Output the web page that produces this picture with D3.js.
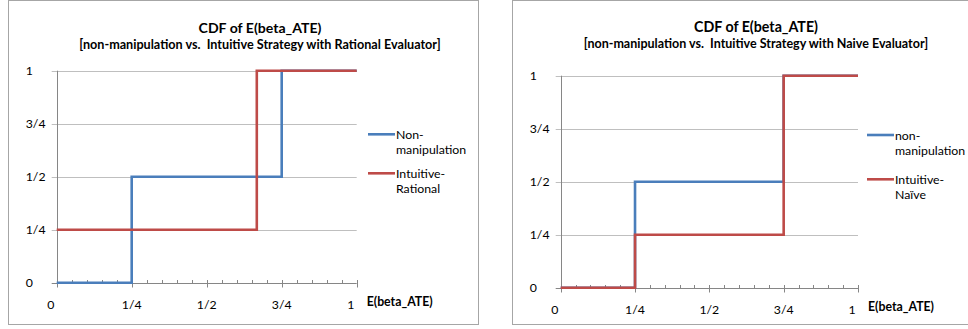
<!DOCTYPE html>
<html>
<head>
  <meta charset="utf-8">
  <style>
    body { margin: 0; background: #fff; font-family: Lato, 'Open Sans', sans-serif; }
    .frame { fill: #fff; stroke: #a6a6a6; stroke-width: 1px; }
    .grid { stroke: #bfbfbf; stroke-width: 1px; }
    .axis-line { stroke: #868686; stroke-width: 1px; }
    .title { font-size: 16px; font-weight: bold; text-anchor: middle; fill: #000; }
    .subtitle { font-size: 12px; font-weight: bold; text-anchor: middle; fill: #000; white-space: pre; }
    .tick-label { font-size: 12.3px; fill: #000; }
    .axis-title { font-size: 12.3px; font-weight: bold; fill: #000; }
    .legend { font-size: 12.3px; fill: #000; }
    .series { fill: none; stroke-width: 2.6px; }
  </style>
</head>
<body>
  <script src="https://d3js.org/d3.v7.min.js"></script>
  <script>

  // data
  var yTicks = [0, 0.25, 0.5, 0.75, 1]
  var yTickLabels = ["0", "1/4", "1/2", "3/4", "1"]
  var xTicks = [0, 0.25, 0.5, 0.75, 1]
  var xTickLabels = ["0", "1/4", "1/2", "3/4", "1"]
  var xTitle = "E(beta_ATE)"
  var title = "CDF of E(beta_ATE)"

  // left chart: non-manipulation vs intuitive/rational
  var leftSubtitle = "[non-manipulation vs.  Intuitive Strategy with Rational Evaluator]"
  var leftBlueX = [0, 0.25, 0.75, 1]
  var leftBlueY = [0, 0.5, 1, 1]
  var leftRedX = [0, 0.667, 1]
  var leftRedY = [0.25, 1, 1]
  var leftNames = [["Non-", "manipulation"], ["Intuitive-", "Rational"]]

  // right chart: non-manipulation vs intuitive/naive
  var rightSubtitle = "[non-manipulation vs.  Intuitive Strategy with Naive Evaluator]"
  var rightBlueX = [0, 0.25, 0.75, 1]
  var rightBlueY = [0, 0.5, 1, 1]
  var rightRedX = [0, 0.25, 0.75, 1]
  var rightRedY = [0, 0.25, 1, 1]
  var rightNames = [["non-", "manipulation"], ["Intuitive-", "Naïve"]]

  var colors = ["#4a7ebb", "#be4b48"]

  var width = 968
  var height = 329
  var svg = d3.select("body").append("svg")
    .attr("width", width)
    .attr("height", height)

  // scale font so the text spans the width seen in the original
  function fitText(sel, target) {
    var base = parseFloat(getComputedStyle(sel.node()).fontSize)
    var w = sel.node().getComputedTextLength()
    sel.style("font-size", (base * target / w) + "px")
  }

  function drawChart(c) {
    var g = svg.append("g")

    g.append("rect")
      .attr("class", "frame")
      .attr("x", c.box[0] + 0.5)
      .attr("y", c.box[1] + 0.5)
      .attr("width", c.box[2])
      .attr("height", c.box[3])

    var x = d3.scaleLinear().domain([0, 1]).range([c.left, c.right])
    var y = d3.scaleLinear().domain([0, 1]).range([c.bottom, c.top])

    // gridlines + y ticks
    g.selectAll(".grid")
      .data(yTicks.filter(function(d) { return d > 0 }))
      .enter().append("line")
      .attr("class", "grid")
      .attr("x1", c.left - 5)
      .attr("x2", c.right)
      .attr("y1", function(d) { return Math.round(y(d)) + 0.5 })
      .attr("y2", function(d) { return Math.round(y(d)) + 0.5 })

    // y axis
    g.append("line")
      .attr("class", "axis-line")
      .attr("x1", Math.round(c.left) + 0.5)
      .attr("x2", Math.round(c.left) + 0.5)
      .attr("y1", c.top)
      .attr("y2", c.bottom)

    // x axis
    var by = Math.round(c.bottom) + 0.5
    g.append("line")
      .attr("class", "axis-line")
      .attr("x1", c.left - 5)
      .attr("x2", c.right)
      .attr("y1", by)
      .attr("y2", by)

    // minor ticks every 0.05
    g.selectAll(".minor")
      .data(x.ticks(20))
      .enter().append("line")
      .attr("class", "axis-line")
      .attr("x1", function(d) { return Math.round(x(d)) + 0.5 })
      .attr("x2", function(d) { return Math.round(x(d)) + 0.5 })
      .attr("y1", by - 3.5)
      .attr("y2", function(d) { return xTicks.indexOf(d) >= 0 ? by + 4 : by })

    // y labels
    g.selectAll(".ylab")
      .data(yTicks)
      .enter().append("text")
      .attr("class", "tick-label")
      .attr("x", c.left - 31)
      .attr("y", function(d) { return y(d) + 4.5 })
      .text(function(d, i) { return yTickLabels[i] })

    // x labels (whole numbers sit a bit left, like excel's padded fraction format)
    g.selectAll(".xlab")
      .data(xTicks)
      .enter().append("text")
      .attr("class", "tick-label")
      .attr("text-anchor", "middle")
      .attr("x", function(d) { return x(d) })
      .attr("dx", function(d, i) { return xTickLabels[i].indexOf("/") < 0 ? -6 : 0 })
      .attr("y", c.bottom + 26)
      .text(function(d, i) { return xTickLabels[i] })

    g.append("text")
      .attr("class", "axis-title")
      .attr("x", c.right + 10)
      .attr("y", c.bottom + 23)
      .text(xTitle)

    var t = g.append("text")
      .attr("class", "title")
      .attr("x", c.titleX)
      .attr("y", c.titleY)
      .text(title)
    fitText(t, c.titleW)

    var st = g.append("text")
      .attr("class", "subtitle")
      .attr("x", c.titleX)
      .attr("y", c.titleY + 16)
      .text(c.subtitle)
    fitText(st, c.subtitleW)

    // series
    var line = d3.line()
      .curve(d3.curveStepAfter)
      .x(function(d) { return x(d[0]) })
      .y(function(d) { return y(d[1]) })

    c.series.forEach(function(s, i) {
      g.append("path")
        .attr("class", "series")
        .attr("stroke", colors[i])
        .attr("d", line(d3.zip(s[0], s[1])))
    })

    // legend
    c.names.forEach(function(n, i) {
      var ly = c.legendY + i * c.legendGap
      g.append("line")
        .attr("x1", c.legendX)
        .attr("x2", c.legendX + 27)
        .attr("y1", ly)
        .attr("y2", ly)
        .attr("stroke", colors[i])
        .attr("stroke-width", 2.6)
      g.append("text")
        .attr("class", "legend")
        .attr("x", c.legendX + 28)
        .attr("y", ly + 4.5)
        .text(n[0])
      g.append("text")
        .attr("class", "legend")
        .attr("x", c.legendX + 28)
        .attr("y", ly + 19.5)
        .text(n[1])
    })
  }

  drawChart({
    box: [8, 0, 470, 324],
    left: 56.7, right: 356.7, top: 70.7, bottom: 282.7,
    titleX: 260, titleY: 32.5, titleW: 123, subtitleW: 362,
    subtitle: leftSubtitle,
    series: [[leftBlueX, leftBlueY], [leftRedX, leftRedY]],
    names: leftNames,
    legendX: 368, legendY: 134.3, legendGap: 39
  })

  drawChart({
    box: [512, 0, 470, 324],
    left: 560.7, right: 858, top: 75.7, bottom: 287.7,
    titleX: 756, titleY: 31.5, titleW: 124, subtitleW: 345,
    subtitle: rightSubtitle,
    series: [[rightBlueX, rightBlueY], [rightRedX, rightRedY]],
    names: rightNames,
    legendX: 867, legendY: 135, legendGap: 44.3
  })
  </script>
</body>
</html>
